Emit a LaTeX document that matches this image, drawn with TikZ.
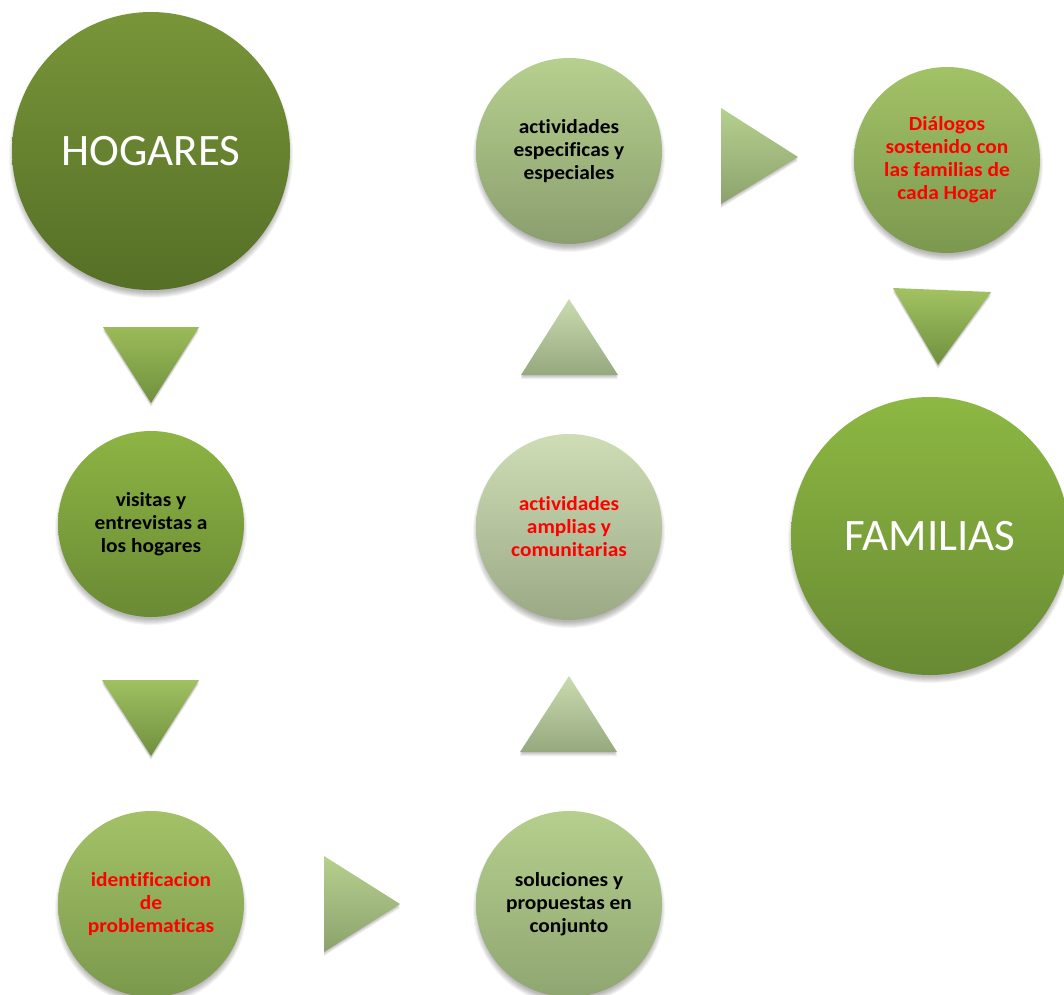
\documentclass[tikz,border=0pt]{standalone}
\usepackage{fontspec}
\setmainfont[Ligatures=NoCommon]{Carlito}
\newfontfamily\smallfont[Ligatures=NoCommon,FakeStretch=1.07]{Carlito}
\usetikzlibrary{calc}
\definecolor{redtxt}{RGB}{255,0,0}
\tikzset{
  bub/.style={circle, inner sep=0pt, align=center, font=\smallfont\bfseries\fontsize{20}{23}\selectfont},
  bigbub/.style={circle, inner sep=0pt, align=center, text=white, font=\fontsize{45}{50}\selectfont},
}
\newcommand\softshadow[3]{%
  \foreach \k in {0,...,6}{\fill[black,opacity=0.045] (#1,#2+5) circle ({#3+3-\k});}}
\newcommand\trishadow[6]{%
  \foreach \k in {0,...,3}{\fill[black,opacity=0.06] ($(#1,#2)+(0,4-\k)$) -- ($(#3,#4)+(0,4-\k)$) -- ($(#5,#6)+(0,4-\k)$) -- cycle;}}
\begin{document}
\begin{tikzpicture}[x=1pt,y=-1pt]
\useasboundingbox (0,0) rectangle (1064,994);
\fill[white] (0,0) rectangle (1064,994);
% shadows
\softshadow{151}{151}{139}
\softshadow{151}{524}{93}
\softshadow{151}{904}{93}
\softshadow{569}{904}{93}
\softshadow{569}{527}{93}
\softshadow{569}{151}{93}
\softshadow{947}{160}{93}
\softshadow{930}{536}{139}
% circles
\node[bigbub, minimum size=278pt, top color={rgb,255:red,121;green,149;blue,57}, bottom color={rgb,255:red,85;green,111;blue,38}] (hog) at (151,151) {HOGARES};
\node[bub, minimum size=186pt, top color={rgb,255:red,141;green,180;blue,68}, bottom color={rgb,255:red,106;green,138;blue,52}] (vis) at (151,524) {visitas y\\entrevistas a\\los hogares};
\node[bub, text=redtxt, minimum size=186pt, top color={rgb,255:red,163;green,194;blue,103}, bottom color={rgb,255:red,123;green,153;blue,76}] (ide) at (151,904) {identificacion\\de\\problematicas};
\node[bub, minimum size=186pt, top color={rgb,255:red,181;green,207;blue,141}, bottom color={rgb,255:red,143;green,166;blue,114}] (sol) at (569,904) {soluciones y\\propuestas en\\conjunto};
\node[bub, text=redtxt, minimum size=186pt, top color={rgb,255:red,206;green,221;blue,181}, bottom color={rgb,255:red,155;green,170;blue,133}] (amp) at (569,527) {actividades\\amplias y\\comunitarias};
\node[bub, minimum size=186pt, top color={rgb,255:red,182;green,208;blue,142}, bottom color={rgb,255:red,139;green,158;blue,111}] (esp) at (569,151) {actividades\\especificas y\\especiales};
\node[bub, text=redtxt, minimum size=186pt, top color={rgb,255:red,162;green,194;blue,102}, bottom color={rgb,255:red,124;green,152;blue,79}] (dia) at (947,160) {Diálogos\\sostenido con\\las familias de\\cada Hogar};
\node[bigbub, minimum size=278pt, top color={rgb,255:red,141;green,184;blue,66}, bottom color={rgb,255:red,104;green,138;blue,51}] (fam) at (930,536) {FAMILIAS};
% triangles (arrows between steps)
\trishadow{103}{327}{199}{327}{151}{403}
\shade[top color={rgb,255:red,155;green,187;blue,89}, bottom color={rgb,255:red,112;green,144;blue,62}] (103,327) -- (199,327) -- (151,403) -- cycle;
\trishadow{102}{680}{199}{680}{151}{756}
\shade[top color={rgb,255:red,160;green,192;blue,98}, bottom color={rgb,255:red,112;green,144;blue,62}] (102,680) -- (199,680) -- (151,756) -- cycle;
\trishadow{324}{856}{324}{952}{400}{904}
\shade[top color={rgb,255:red,182;green,208;blue,142}, bottom color={rgb,255:red,140;green,162;blue,110}] (324,856) -- (324,952) -- (400,904) -- cycle;
\trishadow{520}{752}{617}{752}{569}{676}
\shade[top color={rgb,255:red,202;green,219;blue,176}, bottom color={rgb,255:red,150;green,168;blue,126}] (520,752) -- (617,752) -- (569,676) -- cycle;
\trishadow{521}{375}{618}{375}{569}{299}
\shade[top color={rgb,255:red,202;green,219;blue,176}, bottom color={rgb,255:red,150;green,168;blue,126}] (521,375) -- (618,375) -- (569,299) -- cycle;
\trishadow{721}{108}{721}{204}{798}{157}
\shade[top color={rgb,255:red,182;green,208;blue,142}, bottom color={rgb,255:red,140;green,162;blue,110}] (721,108) -- (721,204) -- (798,157) -- cycle;
\trishadow{893}{288}{991}{292}{938}{365}
\shade[top color={rgb,255:red,162;green,194;blue,98}, bottom color={rgb,255:red,112;green,144;blue,62}] (893,288) -- (991,292) -- (938,365) -- cycle;
\end{tikzpicture}
\end{document}
